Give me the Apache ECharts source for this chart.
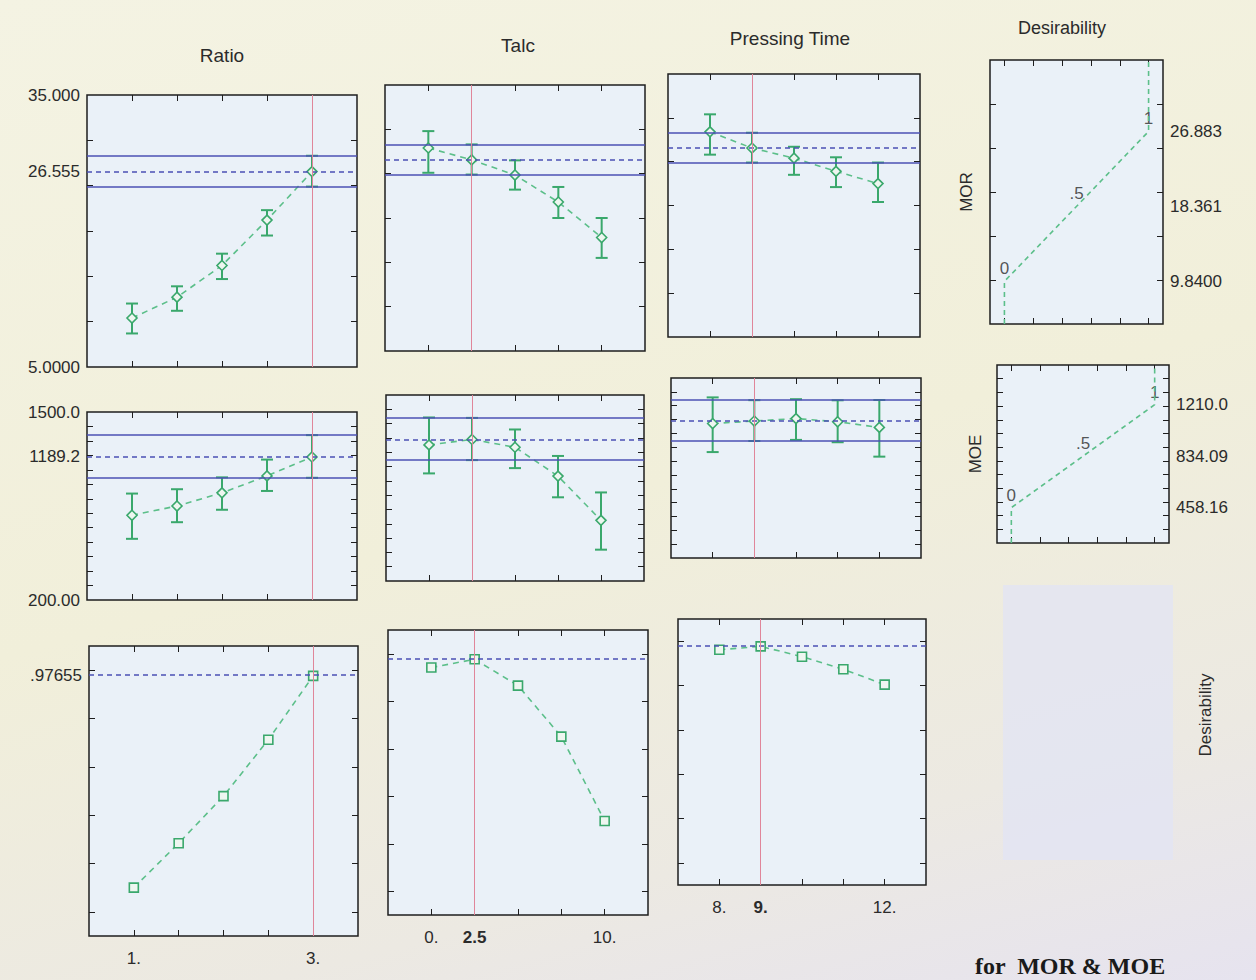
<!DOCTYPE html>
<html>
<head>
<meta charset="utf-8">
<title>Desirability profiles: MOR &amp; MOE</title>
<script src="https://cdn.jsdelivr.net/npm/echarts@6/dist/echarts.min.js"></script>
<style>
  html, body { margin: 0; padding: 0; }
  #chart {
    width: 1256px; height: 980px;
    background: linear-gradient(165deg, #f4f3e3 0%, #f1efda 50%, #ece9e2 80%, #e6e3ef 100%);
  }
</style>
</head>
<body>
<div id="chart"></div>
<script>
// ---- factor levels ----
const ratioLevels = [1, 1.5, 2, 2.5, 3];
const talcLevels  = [0, 2.5, 5, 7.5, 10];
const pressLevels = [8, 9, 10, 11, 12];

// current factor settings
const ratioCurrent = 3;
const talcCurrent  = 2.5;
const pressCurrent = 9;

// ---- MOR: predicted values, confidence limits ----
const morPred = 26.555;
const morCiLow = 24.9;
const morCiHigh = 28.3;
const morRatioMean = [10.4, 12.7, 16.2, 21.2, morPred];
const morRatioLow  = [8.7, 11.2, 14.7, 19.5, 24.9];
const morRatioHigh = [12.0, 13.9, 17.5, 22.3, 28.3];
const morTalcMean  = [27.9, morPred, 24.85, 21.8, 17.8];
const morTalcLow   = [25.1, 24.9, 23.2, 20.0, 15.5];
const morTalcHigh  = [29.8, 28.3, 26.5, 23.5, 20.0];
const morPressMean = [28.4, morPred, 25.4, 23.9, 22.5];
const morPressLow  = [25.8, 24.9, 23.5, 22.1, 20.4];
const morPressHigh = [30.4, 28.3, 26.7, 25.5, 24.9];

// ---- MOE ----
const moePred = 1189.2;
const moeCiLow = 1045;
const moeCiHigh = 1340;
const moeRatioMean = [786, 850, 941, 1058, moePred];
const moeRatioLow  = [623, 738, 824, 954, 1045];
const moeRatioHigh = [936, 966, 1048, 1171, 1340];
const moeTalcMean  = [1151, moePred, 1135, 933, 624];
const moeTalcLow   = [952, 1045, 989, 785, 419];
const moeTalcHigh  = [1343, 1340, 1259, 1074, 819];
const moePressMean = [1171, moePred, 1207, 1184, 1143];
const moePressLow  = [965, 1045, 1053, 1036, 932];
const moePressHigh = [1360, 1340, 1347, 1339, 1341];

// ---- overall desirability ----
const desPred = 0.97655;
const desRatio = [0.10, 0.284, 0.479, 0.712, desPred];
const desTalc  = [0.942, desPred, 0.866, 0.651, 0.296];
const desPress = [0.961, desPred, 0.930, 0.873, 0.804];

// ---- individual desirability functions (value at d = 0, .5, 1) ----
const morDesValues = [9.84, 18.361, 26.883];
const moeDesValues = [458.16, 834.09, 1210.0];
const desLevels = [0, 0.5, 1];
const desLevelText = ['0', '.5', '1'];

// ---- axis ranges and tick labels ----
const morRange = [5, 35];
const moeRange = [200, 1500];
const desRange = [-0.1, 1.1];
const morLabels = { 5: '5.0000', 26.555: '26.555', 35: '35.000' };
const moeLabels = { 200: '200.00', 1189.2: '1189.2', 1500: '1500.0' };
const desLabels = { 0.97655: '.97655' };
const ratioTickLabels = { 1: '1.', 3: '3.' };
const talcTickLabels  = { 0: '0.', 2.5: '2.5', 10: '10.' };
const pressTickLabels = { 8: '8.', 9: '9.', 12: '12.' };
const morDesLabels = { 9.84: '9.8400', 18.361: '18.361', 26.883: '26.883' };
const moeDesLabels = { 458.16: '458.16', 834.09: '834.09', 1210: '1210.0' };

// ---------------------------------------------------------------
const FONT = '"Liberation Sans", Arial, sans-serif';
const TXT = '#2b2b2b';
const GREEN = '#3aa86c';
const GREEN_LINE = '#5cbf8a';
const BLUE = '#4b50b4';
const RED = '#e0869a';

const grids = [], xAxes = [], yAxes = [], series = [];

function ticksBetween(a, b, step) {
  const out = [];
  for (let v = a; v <= b + 1e-9; v += step) out.push(+v.toFixed(6));
  return out;
}

function addPanel(rect, xr, yr, cfg) {
  const gi = grids.length;
  grids.push({
    left: rect[0], top: rect[1], width: rect[2], height: rect[3],
    show: true, backgroundColor: cfg.bg || '#eaf1f8',
    borderColor: '#1e1e1e', borderWidth: 1.5
  });
  const tickStyle = { color: '#1e1e1e', width: 1 };
  const mkX = (pos, labels) => ({
    gridIndex: gi, type: 'value', min: xr[0], max: xr[1], position: pos,
    axisLine: { show: false, onZero: false },
    axisTick: { show: true, inside: true, length: 6, customValues: cfg.xTicks, lineStyle: tickStyle },
    splitLine: { show: false },
    axisLabel: labels ? {
      show: true, customValues: Object.keys(labels).map(Number), margin: 14,
      fontFamily: FONT, fontSize: 17, color: TXT,
      formatter: v => (v === cfg.xBold ? '{b|' + labels[v] + '}' : labels[v]),
      rich: { b: { fontWeight: 'bold', fontFamily: FONT, fontSize: 17, color: TXT } }
    } : { show: false }
  });
  const mkY = (pos, labels, name) => ({
    gridIndex: gi, type: 'value', min: yr[0], max: yr[1], position: pos,
    axisLine: { show: false, onZero: false },
    axisTick: { show: true, inside: true, length: 6, customValues: cfg.yTicks, lineStyle: tickStyle },
    splitLine: { show: false },
    name: name || '', nameLocation: 'middle', nameGap: cfg.nameGap || 15, nameRotate: 90,
    nameTextStyle: { fontFamily: FONT, fontSize: 17, color: TXT },
    axisLabel: labels ? {
      show: true, customValues: Object.keys(labels).map(Number), margin: 7,
      fontFamily: FONT, fontSize: 17, color: TXT,
      formatter: v => labels[v]
    } : { show: false }
  });
  const xi = xAxes.length;
  xAxes.push(mkX('bottom', cfg.xLabels), mkX('top', null));
  const yi = yAxes.length;
  yAxes.push(mkY('left', cfg.yLeftLabels, cfg.yName), mkY('right', cfg.yRightLabels));
  return { xi: xi, yi: yi };
}

function errorBars(ax, levels, lo, hi) {
  series.push({
    type: 'custom', xAxisIndex: ax.xi, yAxisIndex: ax.yi, z: 3, silent: true,
    data: levels.map((x, i) => [x, lo[i], hi[i]]),
    encode: { x: 0, y: [1, 2] },
    renderItem: function (params, api) {
      const x = api.value(0);
      const a = api.coord([x, api.value(1)]);
      const b = api.coord([x, api.value(2)]);
      const st = { stroke: GREEN, lineWidth: 2 };
      const w = 6;
      return {
        type: 'group', children: [
          { type: 'line', shape: { x1: a[0], y1: a[1], x2: b[0], y2: b[1] }, style: st },
          { type: 'line', shape: { x1: a[0] - w, y1: a[1], x2: a[0] + w, y2: a[1] }, style: st },
          { type: 'line', shape: { x1: b[0] - w, y1: b[1], x2: b[0] + w, y2: b[1] }, style: st }
        ]
      };
    }
  });
}

function meanLine(ax, levels, values, symbol, refLines) {
  series.push({
    type: 'line', xAxisIndex: ax.xi, yAxisIndex: ax.yi, z: 4, silent: true,
    data: levels.map((x, i) => [x, values[i]]),
    symbol: symbol, symbolSize: symbol === 'rect' ? 9 : 10, showSymbol: true,
    lineStyle: { color: GREEN_LINE, width: 1.6, type: [6, 5] },
    itemStyle: { color: '#eef6f0', borderColor: GREEN, borderWidth: 1.6 },
    markLine: {
      silent: true, symbol: ['none', 'none'], label: { show: false },
      animation: false, data: refLines
    }
  });
}

function refs(current, pred, lo, hi) {
  const out = [];
  if (lo !== undefined) {
    out.push({ yAxis: lo, lineStyle: { color: BLUE, width: 1.6, type: 'solid' } });
    out.push({ yAxis: hi, lineStyle: { color: BLUE, width: 1.6, type: 'solid' } });
  }
  out.push({ yAxis: pred, lineStyle: { color: BLUE, width: 1.6, type: [5, 4] } });
  out.push({ xAxis: current, lineStyle: { color: RED, width: 1, type: 'solid' } });
  return out;
}

const ratioRange = [0.5, 3.5], talcRange = [-2.5, 12.5], pressRange = [7, 13];
const morTicks = ticksBetween(10, 30, 5);
const moeTicks = ticksBetween(300, 1400, 100);
const desTicks = ticksBetween(0, 1, 0.2);

const columns = [
  { levels: ratioLevels, range: ratioRange, cur: ratioCurrent, labels: ratioTickLabels,
    rects: [[87, 95, 270, 272], [87, 412, 270, 188], [89, 646, 269, 290]],
    mor: [morRatioMean, morRatioLow, morRatioHigh], moe: [moeRatioMean, moeRatioLow, moeRatioHigh], des: desRatio },
  { levels: talcLevels, range: talcRange, cur: talcCurrent, labels: talcTickLabels,
    rects: [[385, 85, 260, 266], [386, 395, 258, 186], [388, 630, 260, 285]],
    mor: [morTalcMean, morTalcLow, morTalcHigh], moe: [moeTalcMean, moeTalcLow, moeTalcHigh], des: desTalc },
  { levels: pressLevels, range: pressRange, cur: pressCurrent, labels: pressTickLabels,
    rects: [[668, 74, 252, 263], [671, 378, 250, 180], [678, 619, 248, 266]],
    mor: [morPressMean, morPressLow, morPressHigh], moe: [moePressMean, moePressLow, moePressHigh], des: desPress }
];

columns.forEach((c, ci) => {
  const first = ci === 0;
  // MOR row
  let ax = addPanel(c.rects[0], c.range, morRange, {
    xTicks: c.levels, yTicks: morTicks, yLeftLabels: first ? morLabels : null
  });
  errorBars(ax, c.levels, c.mor[1], c.mor[2]);
  meanLine(ax, c.levels, c.mor[0], 'diamond', refs(c.cur, morPred, morCiLow, morCiHigh));
  // MOE row
  ax = addPanel(c.rects[1], c.range, moeRange, {
    xTicks: c.levels, yTicks: moeTicks, yLeftLabels: first ? moeLabels : null
  });
  errorBars(ax, c.levels, c.moe[1], c.moe[2]);
  meanLine(ax, c.levels, c.moe[0], 'diamond', refs(c.cur, moePred, moeCiLow, moeCiHigh));
  // overall desirability row
  ax = addPanel(c.rects[2], c.range, desRange, {
    xTicks: c.levels, yTicks: desTicks, yLeftLabels: first ? desLabels : null,
    xLabels: c.labels, xBold: ci === 0 ? null : c.cur
  });
  meanLine(ax, c.levels, c.des, 'rect', refs(c.cur, desPred));
});

// individual desirability function panels
function desFunctionPanel(rect, yr, yTicks, values, labels, name, gap) {
  const ax = addPanel(rect, desRange, yr, {
    xTicks: desTicks, yTicks: yTicks, yRightLabels: labels, yName: name, nameGap: gap
  });
  series.push({
    type: 'line', xAxisIndex: ax.xi, yAxisIndex: ax.yi, silent: true,
    data: [[desLevels[0], yr[0]], [desLevels[0], values[0]], [desLevels[2], values[2]], [desLevels[2], yr[1]]],
    symbol: 'none', lineStyle: { color: GREEN_LINE, width: 1.6, type: [5, 4] }
  });
  series.push({
    type: 'scatter', xAxisIndex: ax.xi, yAxisIndex: ax.yi, silent: true,
    data: desLevels.map((d, i) => [d, values[i]]), symbolSize: 0,
    label: {
      show: true, position: 'top', distance: 4,
      fontFamily: FONT, fontSize: 17, color: TXT,
      formatter: p => desLevelText[p.dataIndex]
    }
  });
}
desFunctionPanel([990, 60, 173, 264], morRange, morTicks, morDesValues, morDesLabels, 'MOR', 15);
desFunctionPanel([997, 365, 172, 178], moeRange, moeTicks, moeDesValues, moeDesLabels, 'MOE', 13);

const titleStyle = (x, y, text, size) => ({
  type: 'text', x: x, y: y, silent: true,
  style: { text: text, fontFamily: FONT, fontSize: size, fill: TXT, align: 'center', verticalAlign: 'middle' }
});

const option = {
  animation: false,
  backgroundColor: 'transparent',
  grid: grids, xAxis: xAxes, yAxis: yAxes, series: series,
  graphic: [
    // empty panel in the right column
    { type: 'rect', silent: true, shape: { x: 1003, y: 585, width: 170, height: 275 },
      style: { fill: 'rgba(226,228,244,0.75)' } },
    titleStyle(222, 55, 'Ratio', 19),
    titleStyle(518, 45, 'Talc', 19),
    titleStyle(790, 38, 'Pressing Time', 19),
    titleStyle(1062, 28, 'Desirability', 18),
    { type: 'text', x: 1205, y: 715, rotation: Math.PI / 2, silent: true,
      style: { text: 'Desirability', fontFamily: FONT, fontSize: 17, fill: TXT, align: 'center', verticalAlign: 'middle' } },
    // caption line at the foot of the page
    { type: 'text', x: 975, y: 978, silent: true,
      style: { text: 'for  MOR & MOE', fontFamily: '"Liberation Serif", "Times New Roman", serif',
               fontWeight: 'bold', fontSize: 24, fill: '#1a1a1a', align: 'left', verticalAlign: 'bottom' } }
  ]
};

const chart = echarts.init(document.getElementById('chart'), null, { renderer: 'svg', width: 1256, height: 980 });
chart.setOption(option);
</script>
</body>
</html>
